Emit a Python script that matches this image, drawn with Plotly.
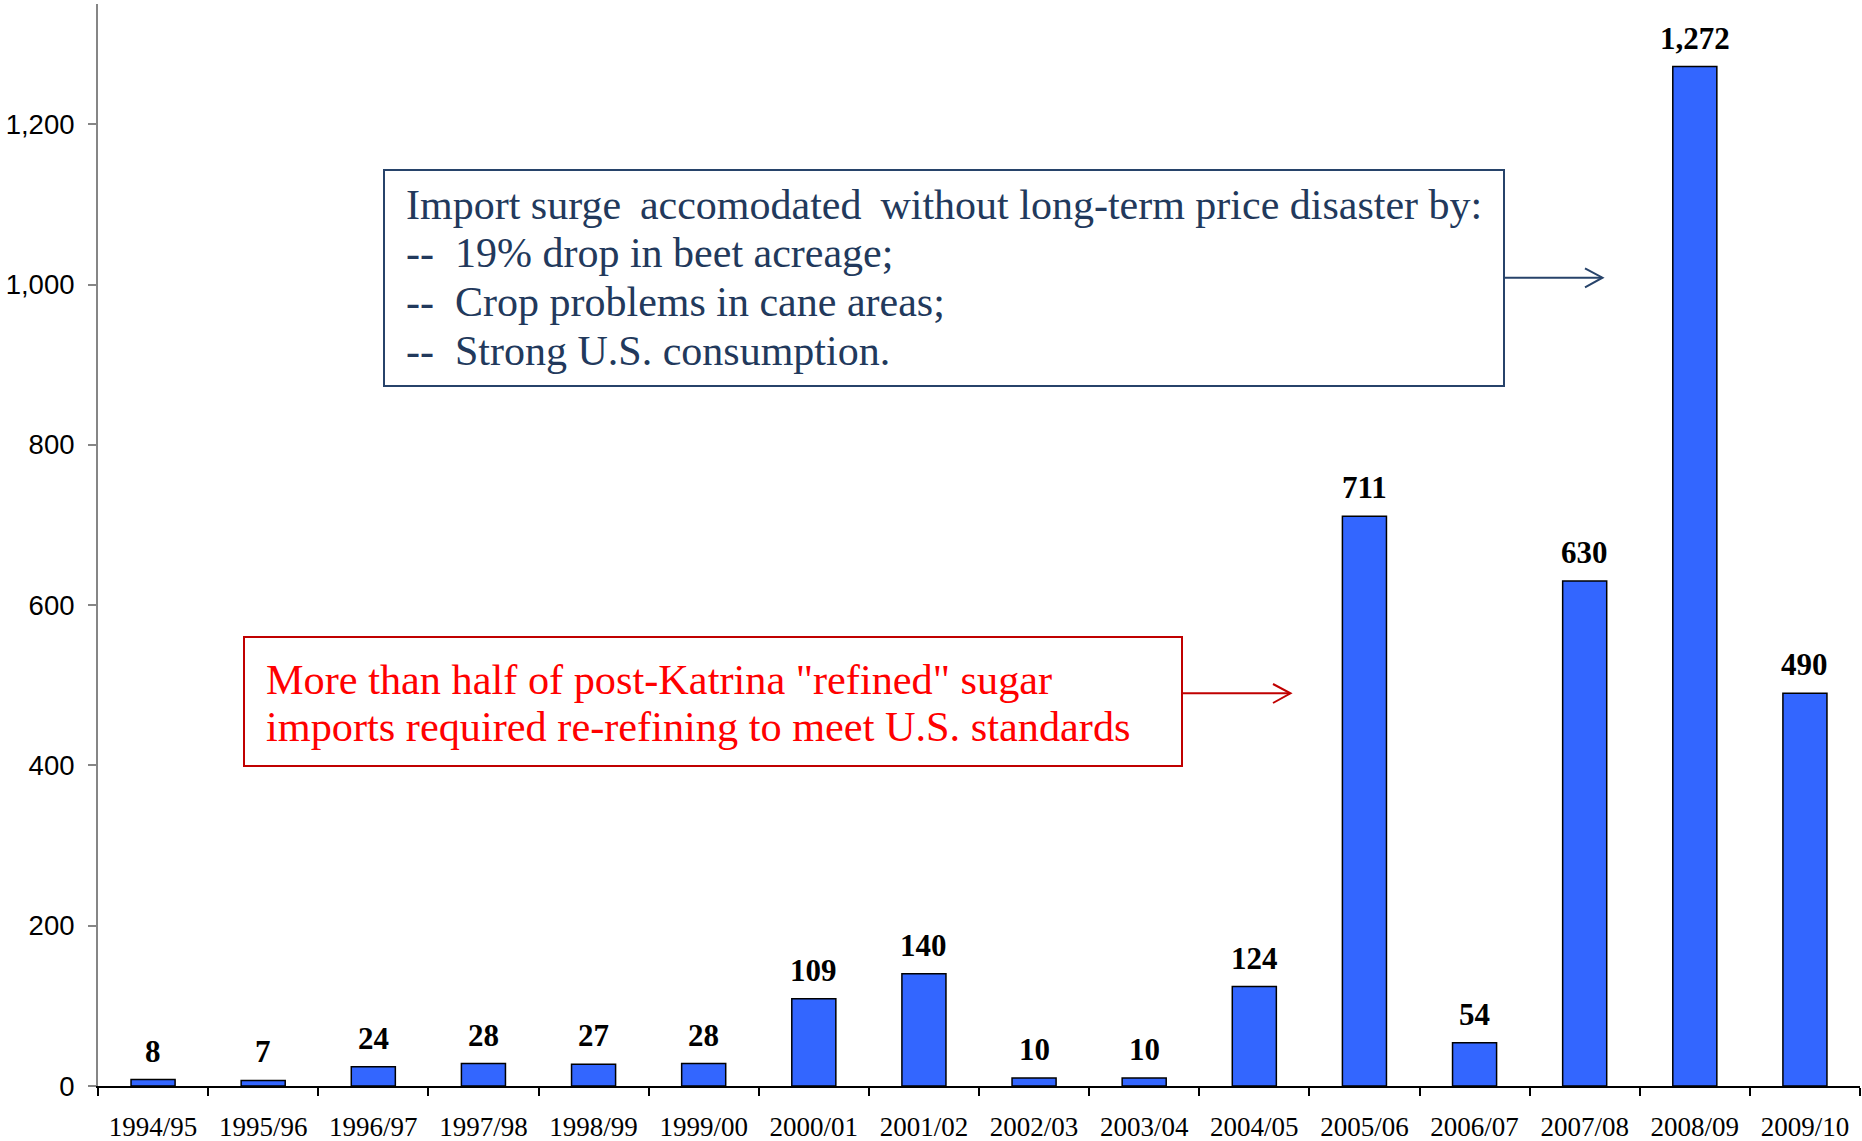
import plotly.graph_objects as go

# ---- data ----
seasons = ["1994/95", "1995/96", "1996/97", "1997/98", "1998/99", "1999/00",
           "2000/01", "2001/02", "2002/03", "2003/04", "2004/05", "2005/06",
           "2006/07", "2007/08", "2008/09", "2009/10"]
imports = [8, 7, 24, 28, 27, 28, 109, 140, 10, 10, 124, 711, 54, 630, 1272, 490]
y_ticks = [0, 200, 400, 600, 800, 1000, 1200]

box1_lines = ["Import surge\u2009 accomodated\u2009 without long-term price disaster by:",
              "--  19% drop in beet acreage;",
              "--  Crop problems in cane areas;",
              "--  Strong U.S. consumption."]
box2_lines = ["More than half of post-Katrina \"refined\" sugar",
              "imports required re-refining to meet U.S. standards"]

# ---- layout geometry (pixels) ----
FIG_W, FIG_H = 1862, 1141
L, R, T, B = 98, 2, 4, 55
PW, PH = FIG_W - L - R, FIG_H - T - B


def px(x):
    return (x - L) / PW


def py(y):
    return (FIG_H - B - y) / PH


SERIF = "Liberation Serif, Times New Roman, serif"
SANS = "Liberation Sans, Arial, sans-serif"
NAVY = "#27436A"
NAVY_TXT = "#22395C"
RED_TXT = "#FF0000"
RED_LINE = "#C00000"

fig = go.Figure()
fig.add_trace(go.Bar(
    x=seasons, y=imports, width=0.4,
    marker=dict(color="#3366FF", line=dict(color="#000000", width=1.5)),
    hoverinfo="x+y", showlegend=False,
))

annotations = []
for s, v in zip(seasons, imports):
    annotations.append(dict(
        x=s, y=v, xref="x", yref="y", text=f"<b>{v:,}</b>", showarrow=False,
        xanchor="center", yanchor="bottom", yshift=10, borderpad=0,
        font=dict(family=SERIF, size=31, color="#000000"),
    ))

box1_centers = [205, 253.5, 302, 350.5]
for txt, cy in zip(box1_lines, box1_centers):
    annotations.append(dict(
        x=px(405), y=py(cy), xref="paper", yref="paper", text=txt,
        showarrow=False, xanchor="left", yanchor="middle", borderpad=0,
        font=dict(family=SERIF, size=42, color=NAVY_TXT),
    ))

box2_centers = [679, 726]
for txt, cy in zip(box2_lines, box2_centers):
    annotations.append(dict(
        x=px(265), y=py(cy), xref="paper", yref="paper", text=txt,
        showarrow=False, xanchor="left", yanchor="middle", borderpad=0,
        font=dict(family=SERIF, size=42.3, color=RED_TXT),
    ))

shapes = [
    # box 1
    dict(type="rect", xref="paper", yref="paper", x0=px(384), x1=px(1504),
         y0=py(386), y1=py(170), line=dict(color=NAVY, width=2), fillcolor="rgba(0,0,0,0)"),
    dict(type="line", xref="paper", yref="paper", x0=px(1504), x1=px(1602),
         y0=py(277.7), y1=py(277.7), line=dict(color=NAVY, width=2)),
    dict(type="path", xref="paper", yref="paper",
         path=f"M {px(1585)} {py(268.3)} L {px(1602.5)} {py(277.7)} L {px(1585)} {py(287.3)}",
         line=dict(color=NAVY, width=2)),
    # box 2
    dict(type="rect", xref="paper", yref="paper", x0=px(244), x1=px(1182),
         y0=py(766), y1=py(637), line=dict(color=RED_LINE, width=2), fillcolor="rgba(0,0,0,0)"),
    dict(type="line", xref="paper", yref="paper", x0=px(1182), x1=px(1290),
         y0=py(693.3), y1=py(693.3), line=dict(color=RED_LINE, width=2)),
    dict(type="path", xref="paper", yref="paper",
         path=f"M {px(1273)} {py(684)} L {px(1290.5)} {py(693.3)} L {px(1273)} {py(703)}",
         line=dict(color=RED_LINE, width=2)),
]

fig.update_layout(
    width=FIG_W, height=FIG_H,
    margin=dict(l=L, r=R, t=T, b=B, pad=0, autoexpand=False),
    plot_bgcolor="#FFFFFF", paper_bgcolor="#FFFFFF",
    annotations=annotations, shapes=shapes,
    showlegend=False,
)

fig.update_xaxes(
    type="category", categoryorder="array", categoryarray=seasons,
    range=[-0.5, len(seasons) - 0.5], automargin=False,
    showgrid=False, zeroline=False,
    showline=True, linecolor="#000000", linewidth=2,
    ticks="outside", tickson="boundaries", ticklen=8, tickwidth=2, tickcolor="#000000",
    tickfont=dict(family=SERIF, size=27, color="#000000"),
    ticklabelstandoff=16,
)
fig.update_yaxes(
    range=[0, 1350], automargin=False,
    tickmode="array", tickvals=y_ticks, ticktext=[f"{t:,}" for t in y_ticks],
    showgrid=False, zeroline=False,
    showline=True, linecolor="#868686", linewidth=2,
    ticks="outside", ticklen=8, tickwidth=2, tickcolor="#868686",
    tickfont=dict(family=SANS, size=27.5, color="#000000"),
    ticklabelstandoff=8,
)

fig.write_html("out.html")
